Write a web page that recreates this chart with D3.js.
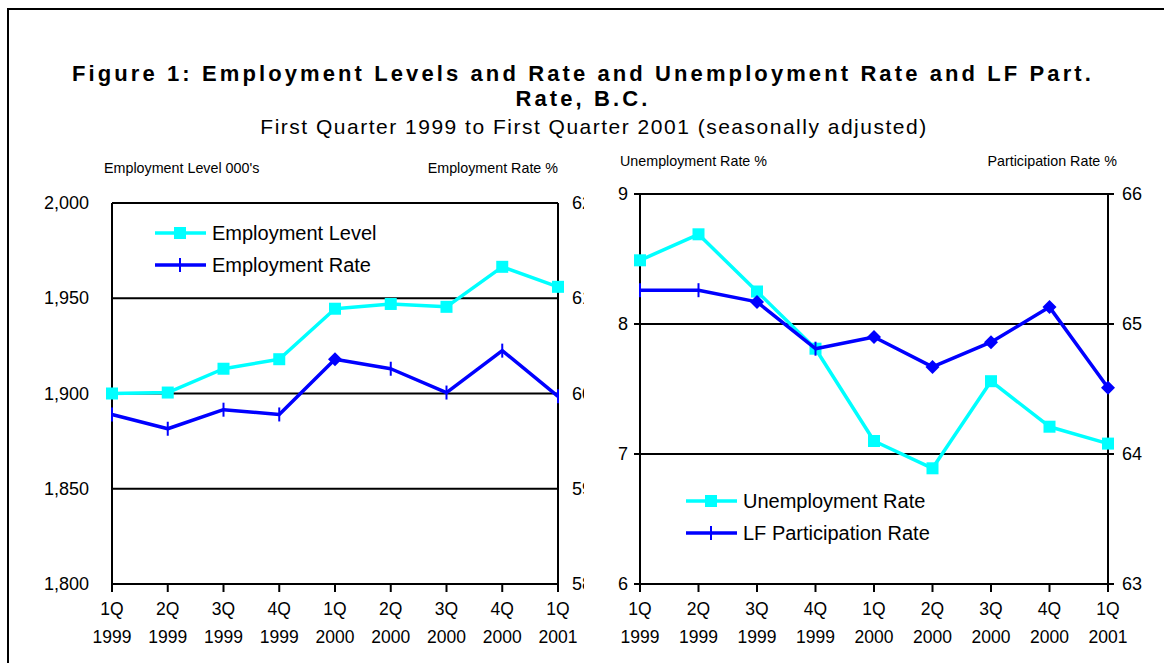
<!DOCTYPE html>
<html>
<head>
<meta charset="utf-8">
<script src="https://cdn.jsdelivr.net/npm/d3@7"></script>
<style>
  body { margin:0; background:#fff; }
  svg { display:block; font-family: Arial, 'Liberation Sans', sans-serif; }
  .grid line { stroke:#000; stroke-width:2; }
  .frame { fill:none; stroke:#000; stroke-width:2; }
</style>
</head>
<body>
<svg></svg>
<script>
const WIDTH = 1164
const HEIGHT = 663
const CYAN = '#00ffff'
const BLUE = '#0000ff'

const quarters = ['1Q','2Q','3Q','4Q','1Q','2Q','3Q','4Q','1Q']
const years = ['1999','1999','1999','1999','2000','2000','2000','2000','2001']

const employmentLevel = [1900, 1900.5, 1913, 1918, 1944.5, 1947, 1945.5, 1966.5, 1956]
const employmentRate = [59.78, 59.63, 59.83, 59.78, 60.36, 60.26, 60.01, 60.45, 59.97]
const empRateMarks = ['plus','plus','plus','plus','diamond','plus','plus','plus','plus']

const unemploymentRate = [8.49, 8.69, 8.25, 7.81, 7.10, 6.89, 7.56, 7.21, 7.08]
const participationRate = [65.26, 65.26, 65.17, 64.81, 64.90, 64.67, 64.86, 65.13, 64.51]
const partRateMarks = ['plus','plus','diamond','plus','diamond','diamond','diamond','diamond','diamond']

const levelTicks = [1800, 1850, 1900, 1950, 2000]
const empRateTicks = [58, 59, 60, 61, 62]
const unempTicks = [6, 7, 8, 9]
const partTicks = [63, 64, 65, 66]

const svg = d3.select('svg')
  .attr('width',WIDTH)
  .attr('height',HEIGHT)

svg.append('rect').attr('class','frame')
  .attr('x',8).attr('y',9).attr('width',WIDTH+20).attr('height',HEIGHT+20)

// titles
svg.append('text')
  .attr('x',583).attr('y',81)
  .attr('text-anchor','middle')
  .style('font-size','22px').style('font-weight','bold').style('letter-spacing','3.1px')
  .text('Figure 1: Employment Levels and Rate and Unemployment Rate and LF Part.')
svg.append('text')
  .attr('x',583).attr('y',106)
  .attr('text-anchor','middle')
  .style('font-size','22px').style('font-weight','bold').style('letter-spacing','3.1px')
  .text('Rate, B.C.')
svg.append('text')
  .attr('x',594).attr('y',134)
  .attr('text-anchor','middle')
  .style('font-size','21px').style('letter-spacing','1.5px')
  .text('First Quarter 1999 to First Quarter 2001 (seasonally adjusted)')

function drawPanel(opt){
  const g = svg.append('g')
  const x = d3.scalePoint().domain(d3.range(quarters.length)).range([opt.x0,opt.x1])
  const yl = d3.scaleLinear().domain(opt.leftDomain).range([opt.y0,opt.y1])
  const yr = d3.scaleLinear().domain(opt.rightDomain).range([opt.y0,opt.y1])

  // gridlines
  g.append('g').attr('class','grid')
    .selectAll('line').data(opt.leftTicks).enter().append('line')
    .attr('x1',opt.x0-opt.yTick).attr('x2',opt.x1+opt.yTick)
    .attr('y1',d => yl(d)).attr('y2',d => yl(d))

  // verticals
  g.append('g').attr('class','grid')
    .selectAll('line').data([opt.x0,opt.x1]).enter().append('line')
    .attr('x1',d => d).attr('x2',d => d)
    .attr('y1',opt.y1).attr('y2',opt.y0)

  // x ticks
  g.append('g').attr('class','grid')
    .selectAll('line').data(d3.range(quarters.length)).enter().append('line')
    .attr('x1',d => x(d)).attr('x2',d => x(d))
    .attr('y1',opt.y0).attr('y2',opt.y0+8)

  const xl = g.append('g').style('font-size','17.5px').attr('text-anchor','middle')
  xl.selectAll('text.q').data(quarters).enter().append('text').attr('class','q')
    .attr('x',(d,i) => x(i)).attr('y',opt.y0+31).text(d => d)
  xl.selectAll('text.y').data(years).enter().append('text').attr('class','y')
    .attr('x',(d,i) => x(i)).attr('y',opt.y0+59).text(d => d)

  // y tick labels
  g.append('g').style('font-size','18px').attr('text-anchor','end')
    .selectAll('text').data(opt.leftTicks).enter().append('text')
    .attr('x',opt.x0-opt.yTick-(opt.yTick?6:23)).attr('y',d => yl(d)+6)
    .text(opt.leftFormat)

  const rl = g.append('g').style('font-size','18px')
  if(opt.clipRight){
    svg.append('clipPath').attr('id','rclip').append('rect')
      .attr('x',opt.x1).attr('y',0).attr('width',opt.clipRight-opt.x1).attr('height',HEIGHT)
    rl.attr('clip-path','url(#rclip)')
  }
  rl.selectAll('text').data(opt.rightTicks).enter().append('text')
    .attr('x',opt.x1+opt.yTick+(opt.yTick?8:14)).attr('y',d => yr(d)+6)
    .text(d => d)

  // axis titles
  g.append('text').style('font-size','14.3px')
    .attr('x',opt.leftTitleX).attr('y',opt.titleY)
    .text(opt.leftTitle)
  g.append('text').style('font-size','14.3px').attr('text-anchor','end')
    .attr('x',opt.rightTitleX).attr('y',opt.titleY)
    .text(opt.rightTitle)

  const line = s => d3.line().x((d,i) => x(i)).y(d => s(d))

  // series on left axis (cyan squares)
  g.append('path').datum(opt.leftSeries)
    .attr('fill','none').attr('stroke',CYAN).attr('stroke-width',3.5)
    .attr('stroke-linejoin','round')
    .attr('d',line(yl))
  g.append('g').selectAll('rect').data(opt.leftSeries).enter().append('rect')
    .attr('x',(d,i) => x(i)-6).attr('y',d => yl(d)-6)
    .attr('width',12).attr('height',12).attr('fill',CYAN)

  // series on right axis (blue)
  g.append('path').datum(opt.rightSeries)
    .attr('fill','none').attr('stroke',BLUE).attr('stroke-width',3.5)
    .attr('stroke-linejoin','round')
    .attr('d',line(yr))
  const marks = g.append('g')
  opt.rightSeries.forEach((d,i) => {
    const cx = x(i), cy = yr(d)
    if(opt.rightMarks[i] == 'diamond'){
      marks.append('path')
        .attr('d',`M${cx},${cy-7}L${cx+7},${cy}L${cx},${cy+7}L${cx-7},${cy}Z`)
        .attr('fill',BLUE)
    } else {
      marks.append('line')
        .attr('x1',cx).attr('x2',cx).attr('y1',cy-7).attr('y2',cy+7)
        .attr('stroke',BLUE).attr('stroke-width',2)
    }
  })

  // legend
  const lg = g.append('g').style('font-size','20px')
  opt.legend.forEach((item,i) => {
    const ly = opt.legendY + i*32
    lg.append('line')
      .attr('x1',opt.legendX).attr('x2',opt.legendX+51)
      .attr('y1',ly).attr('y2',ly)
      .attr('stroke',item.color).attr('stroke-width',3.5)
    if(item.mark == 'square'){
      lg.append('rect').attr('x',opt.legendX+19).attr('y',ly-6)
        .attr('width',12).attr('height',12).attr('fill',item.color)
    } else {
      lg.append('line').attr('x1',opt.legendX+25).attr('x2',opt.legendX+25)
        .attr('y1',ly-7).attr('y2',ly+7).attr('stroke',item.color).attr('stroke-width',2)
    }
    lg.append('text').attr('x',opt.legendX+57).attr('y',ly+7).text(item.label)
  })
}

drawPanel({
  x0:112, x1:558, y0:584, y1:203,
  leftDomain:[1800,2000], rightDomain:[58,62],
  leftTicks:levelTicks, rightTicks:empRateTicks,
  leftFormat:d3.format(','),
  yTick:0, clipRight:584,
  leftSeries:employmentLevel, rightSeries:employmentRate, rightMarks:empRateMarks,
  leftTitle:"Employment Level 000's", rightTitle:'Employment Rate %',
  leftTitleX:104, rightTitleX:558, titleY:173,
  legendX:155, legendY:233,
  legend:[{label:'Employment Level',color:CYAN,mark:'square'},{label:'Employment Rate',color:BLUE,mark:'plus'}]
})

drawPanel({
  x0:640, x1:1108, y0:584, y1:194,
  leftDomain:[6,9], rightDomain:[63,66],
  leftTicks:unempTicks, rightTicks:partTicks,
  leftFormat:d => d,
  yTick:6,
  leftSeries:unemploymentRate, rightSeries:participationRate, rightMarks:partRateMarks,
  leftTitle:'Unemployment Rate %', rightTitle:'Participation Rate %',
  leftTitleX:620, rightTitleX:1117, titleY:166,
  legendX:686, legendY:501,
  legend:[{label:'Unemployment Rate',color:CYAN,mark:'square'},{label:'LF Participation Rate',color:BLUE,mark:'plus'}]
})
</script>
</body>
</html>
